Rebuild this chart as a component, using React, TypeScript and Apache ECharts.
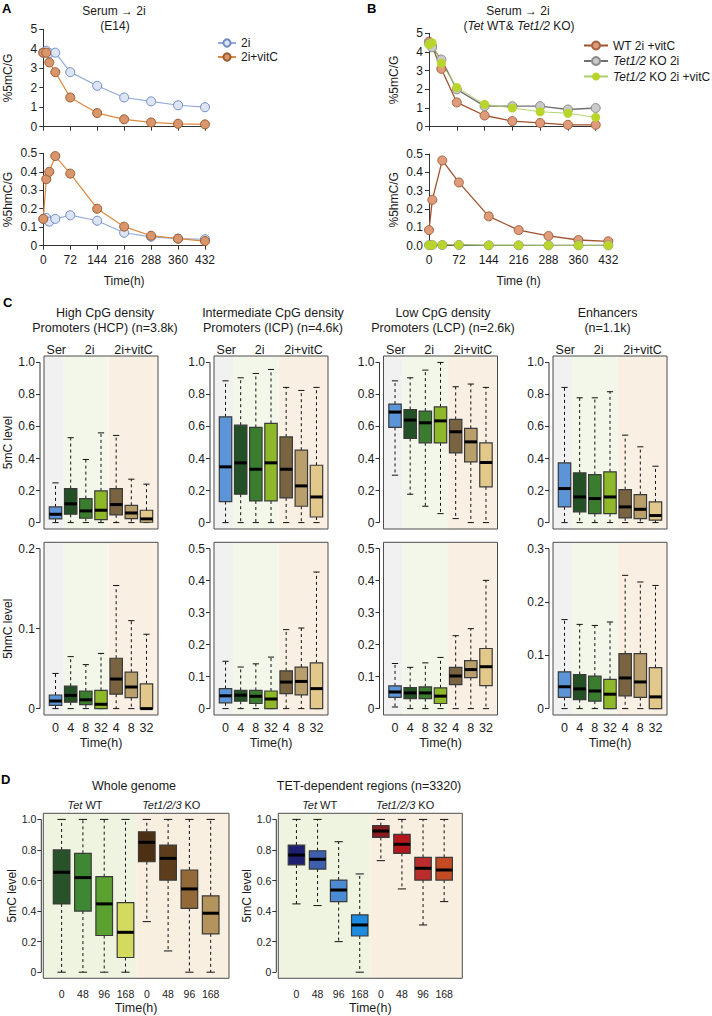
import React, { useEffect, useRef } from "react";
import * as echarts from "echarts";

const FONT = '"Liberation Sans", Arial, Helvetica, sans-serif';
const TXT = "#1a1a1a";
const AX = "#333333";

// ---------------- Panel A ----------------
const A_TIMES = [0, 8, 16, 32, 72, 144, 216, 288, 360, 432];
const A_2I_5MC = [3.8, 3.9, 3.78, 3.8, 2.8, 2.1, 1.5, 1.3, 1.1, 1.0];
const A_VITC_5MC = [3.8, 3.8, 3.3, 2.8, 1.5, 0.7, 0.38, 0.22, 0.15, 0.12];
const A_2I_5HMC = [0.145, 0.15, 0.13, 0.145, 0.165, 0.135, 0.07, 0.048, 0.038, 0.035];
const A_VITC_5HMC = [0.145, 0.36, 0.4, 0.485, 0.39, 0.2, 0.103, 0.054, 0.038, 0.025];

// ---------------- Panel B ----------------
const B_TIMES = [0, 8, 32, 72, 144, 216, 288, 360, 432];
const B_WT_5MC = [4.55, 4.3, 3.1, 1.3, 0.6, 0.3, 0.2, 0.1, 0.1];
const B_KO_5MC = [4.45, 4.25, 3.6, 2.0, 1.1, 1.1, 1.1, 0.92, 1.0];
const B_KOVITC_5MC = [4.4, 4.5, 3.4, 2.1, 1.2, 1.0, 0.8, 0.72, 0.5];
const B_WT_5HMC = [0.085, 0.25, 0.465, 0.345, 0.16, 0.085, 0.053, 0.031, 0.024];
const B_KO_5HMC = [0.003, 0.004, 0.004, 0.004, 0.002, 0.002, 0.002, 0.002, 0.002];
const B_KOVITC_5HMC = [0.003, 0.005, 0.005, 0.005, 0.003, 0.003, 0.002, 0.002, 0.002];

// ---------------- Panel C (min, q1, median, q3, max) ----------------
const C_TIME_LABELS = ["0", "4", "8", "32", "4", "8", "32"];
const C_GROUP_LABELS = ["Ser", "2i", "2i+vitC"];
const C_GROUP_POS = [1.05, 3.25, 6.15];
const HCP_5MC = [
  [0, 0.023, 0.052, 0.098, 0.248],
  [0, 0.052, 0.117, 0.2125, 0.53],
  [0, 0.027, 0.073, 0.15, 0.394],
  [0, 0.019, 0.077, 0.198, 0.56],
  [0, 0.048, 0.1125, 0.2125, 0.544],
  [0, 0.025, 0.06, 0.108, 0.271],
  [0, 0.002, 0.023, 0.077, 0.24],
];
const ICP_5MC = [
  [0, 0.131, 0.348, 0.66, 0.885],
  [0, 0.177, 0.373, 0.608, 0.904],
  [0, 0.135, 0.333, 0.594, 0.931],
  [0, 0.135, 0.373, 0.619, 0.956],
  [0, 0.154, 0.333, 0.535, 0.844],
  [0, 0.102, 0.229, 0.452, 0.825],
  [0, 0.035, 0.16, 0.358, 0.844],
];
const LCP_5MC = [
  [0.296, 0.594, 0.69, 0.74, 0.885],
  [0.177, 0.525, 0.64, 0.706, 0.904],
  [0.102, 0.498, 0.623, 0.696, 0.952],
  [0.056, 0.498, 0.635, 0.723, 1.0],
  [0.025, 0.435, 0.567, 0.644, 0.848],
  [0, 0.379, 0.504, 0.588, 0.865],
  [0, 0.223, 0.375, 0.498, 0.844],
];
const ENH_5MC = [
  [0, 0.098, 0.2125, 0.373, 0.844],
  [0, 0.067, 0.16, 0.31, 0.779],
  [0, 0.056, 0.15, 0.3, 0.779],
  [0, 0.056, 0.16, 0.317, 0.817],
  [0, 0.029, 0.098, 0.206, 0.546],
  [0, 0.025, 0.083, 0.175, 0.473],
  [0, 0.015, 0.044, 0.129, 0.352],
];
const HCP_5HMC = [
  [0, 0.004, 0.0095, 0.017, 0.044],
  [0, 0.008, 0.0166, 0.028, 0.065],
  [0, 0.005, 0.011, 0.022, 0.055],
  [0, 0, 0.0054, 0.0228, 0.069],
  [0, 0.018, 0.037, 0.063, 0.154],
  [0, 0.0137, 0.027, 0.0455, 0.11],
  [0, 0, 0, 0.031, 0.093],
];
const ICP_5HMC = [
  [0, 0.018, 0.04, 0.0625, 0.148],
  [0, 0.023, 0.042, 0.057, 0.13],
  [0, 0.016, 0.0385, 0.057, 0.14],
  [0, 0, 0.03, 0.055, 0.161],
  [0, 0.047, 0.083, 0.118, 0.247],
  [0, 0.043, 0.085, 0.13, 0.252],
  [0, 0, 0.0625, 0.143, 0.427],
];
const LCP_5HMC = [
  [0.005, 0.035, 0.052, 0.071, 0.141],
  [0, 0.031, 0.049, 0.066, 0.129],
  [0, 0.031, 0.049, 0.068, 0.143],
  [0, 0.016, 0.039, 0.065, 0.16],
  [0, 0.075, 0.102, 0.129, 0.228],
  [0, 0.097, 0.122, 0.15, 0.25],
  [0, 0.072, 0.131, 0.188, 0.401],
];
const ENH_5HMC = [
  [0, 0.021, 0.041, 0.069, 0.167],
  [0, 0.017, 0.037, 0.064, 0.158],
  [0, 0.014, 0.033, 0.061, 0.156],
  [0, 0, 0.027, 0.055, 0.1625],
  [0, 0.024, 0.0575, 0.103, 0.25],
  [0, 0.021, 0.05, 0.103, 0.2375],
  [0, 0, 0.022, 0.077, 0.231],
];
const C_TICKS_5MC = [0, 0.2, 0.4, 0.6, 0.8, 1.0];
const HCP_TICKS_5HMC = [0, 0.1, 0.2];
const ICP_TICKS_5HMC = [0, 0.1, 0.2, 0.3, 0.4, 0.5];
const LCP_TICKS_5HMC = [0, 0.1, 0.2, 0.3, 0.4, 0.5];
const ENH_TICKS_5HMC = [0, 0.1, 0.2, 0.3];

// ---------------- Panel D ----------------
const D_TIME_LABELS = ["0", "48", "96", "168", "0", "48", "96", "168"];
const D_GROUP_LABELS = ["{i|Tet} WT", "{i|Tet1/2/3} KO"];
const D_GROUP_POS = [2.1, 6.15];
const WG_5MC = [
  [0, 0.447, 0.654, 0.8, 1.0],
  [0, 0.4, 0.619, 0.778, 1.0],
  [0, 0.24, 0.447, 0.625, 1.0],
  [0, 0.096, 0.261, 0.455, 1.0],
  [0.331, 0.723, 0.85, 0.919, 1.0],
  [0.139, 0.603, 0.745, 0.832, 1.0],
  [0, 0.418, 0.545, 0.669, 1.0],
  [0, 0.251, 0.386, 0.5, 1.0],
];
const TET_5MC = [
  [0.447, 0.702, 0.767, 0.832, 1.0],
  [0.436, 0.675, 0.739, 0.795, 1.0],
  [0.2, 0.462, 0.538, 0.603, 0.854],
  [0, 0.237, 0.309, 0.375, 0.643],
  [0.73, 0.882, 0.924, 0.959, 1.0],
  [0.545, 0.778, 0.837, 0.902, 1.0],
  [0.309, 0.603, 0.68, 0.752, 1.0],
  [0.462, 0.603, 0.669, 0.752, 1.0],
];
const D_TICKS = [0, 0.2, 0.4, 0.6, 0.8, 1.0];

// ---------------- styles ----------------
const C_COLORS = ["#5b94d7", "#245025", "#3a7d2e", "#8eb72a", "#7a6340", "#b99f6c", "#e2c88b"];
const WG_COLORS = ["#27522a", "#3e8834", "#5aa132", "#d3db5e", "#4d3013", "#5e3d1d", "#936939", "#b5935c"];
const TET_COLORS = ["#1f1f70", "#3d5fae", "#4b8bd3", "#1d8be0", "#8a1c20", "#b3171d", "#bb2c2c", "#c24b24"];
const C_BAND_COLORS = ["#f1f1f1", "#f3f7ea", "#f9f0e3"];
const D_BAND_COLORS = ["#eff4e0", "#f8efe1"];
const C_X_RANGE = [0.24, 7.76];
const C_SPLITS = [1.5, 4.5];
const D_X_RANGE = [0.14, 8.86];
const D_SPLITS = [4.5];

type Rect = { left: number; top: number; width: number; height: number };

const fmtTick = (v: number) => (Math.abs(v) < 1e-9 ? "0" : (+v.toFixed(2)).toFixed(1));

function makeBoxRenderer(colors: string[], wex: number) {
  return (params: any, api: any) => {
    const pos = api.value(0);
    const lo = api.coord([pos, api.value(1)]);
    const q1 = api.coord([pos, api.value(2)]);
    const md = api.coord([pos, api.value(3)]);
    const q3 = api.coord([pos, api.value(4)]);
    const hi = api.coord([pos, api.value(5)]);
    const w = api.size([wex, 0])[0];
    const cx = lo[0];
    const cap = w / 4;
    const dash = { stroke: "#111", lineWidth: 1, lineDash: [3, 3] };
    const solid = { stroke: "#111", lineWidth: 1 };
    return {
      type: "group",
      children: [
        { type: "line", shape: { x1: cx, y1: q3[1], x2: cx, y2: hi[1] }, style: dash },
        { type: "line", shape: { x1: cx, y1: q1[1], x2: cx, y2: lo[1] }, style: dash },
        { type: "line", shape: { x1: cx - cap, y1: hi[1], x2: cx + cap, y2: hi[1] }, style: solid },
        { type: "line", shape: { x1: cx - cap, y1: lo[1], x2: cx + cap, y2: lo[1] }, style: solid },
        {
          type: "rect",
          shape: { x: cx - w / 2, y: q3[1], width: w, height: q1[1] - q3[1] },
          style: { fill: colors[params.dataIndex], stroke: "#3a3a3a", lineWidth: 1.2 },
        },
        {
          type: "line",
          shape: { x1: cx - w / 2, y1: md[1], x2: cx + w / 2, y2: md[1] },
          style: { stroke: "#000", lineWidth: 3 },
        },
      ],
    };
  };
}

function buildOption() {
  const grid: any[] = [];
  const xAxis: any[] = [];
  const yAxis: any[] = [];
  const series: any[] = [];
  const graphic: any[] = [];

  const addGrid = (r: Rect, frame: boolean) => {
    grid.push({
      ...r,
      show: frame,
      z: 10,
      backgroundColor: "transparent",
      borderColor: "#4d4d4d",
      borderWidth: 1,
    });
    return grid.length - 1;
  };

  const nameStyle = { fontSize: 12, fontFamily: FONT, color: TXT };

  // ---------- line panels ----------
  const linePanel = (
    r: Rect,
    yMax: number,
    yStep: number,
    yName: string,
    showX: boolean,
    xName: string,
    yFmt: (v: number) => string
  ) => {
    const gi = addGrid(r, false);
    xAxis.push({
      type: "value",
      gridIndex: gi,
      min: 0,
      max: 432,
      interval: 72,
      axisLine: { show: true, lineStyle: { color: AX, width: 1 } },
      axisTick: { show: true, length: 4, lineStyle: { color: AX } },
      axisLabel: { show: showX, fontSize: 12, fontFamily: FONT, color: TXT, margin: 8 },
      splitLine: { show: false },
      name: showX ? xName : "",
      nameLocation: "middle",
      nameGap: 29,
      nameTextStyle: nameStyle,
    });
    yAxis.push({
      type: "value",
      gridIndex: gi,
      min: 0,
      max: yMax,
      interval: yStep,
      axisLine: { show: true, lineStyle: { color: AX, width: 1 } },
      axisTick: { show: true, length: 4, lineStyle: { color: AX } },
      axisLabel: { fontSize: 12, fontFamily: FONT, color: TXT, margin: 6, formatter: yFmt },
      splitLine: { show: false },
      name: yName,
      nameLocation: "middle",
      nameGap: 29,
      nameTextStyle: nameStyle,
    });
    return { xi: xAxis.length - 1, yi: yAxis.length - 1 };
  };

  const lineSeries = (
    name: string,
    ax: { xi: number; yi: number },
    times: number[],
    vals: number[],
    line: string,
    fill: string,
    border: string,
    lw: number,
    size: number
  ) => ({
    type: "line",
    name,
    xAxisIndex: ax.xi,
    yAxisIndex: ax.yi,
    data: times.map((t, i) => [t, vals[i]]),
    symbol: "circle",
    symbolSize: size,
    clip: false,
    silent: true,
    lineStyle: { color: line, width: lw },
    itemStyle: { color: fill, borderColor: border, borderWidth: border === "none" ? 0 : 1 },
  });

  const intFmt = (v: number) => String(Math.round(v));
  const oneFmt = (v: number) => (Math.abs(v) < 1e-9 ? "0" : (+v.toFixed(2)).toString());
  const fixFmt = (v: number) => (+v.toFixed(2)).toFixed(1);

  const a1 = linePanel({ left: 43.3, top: 29.3, width: 161.7, height: 97.4 }, 5, 1, "%5mC/G", false, "", intFmt);
  const a2 = linePanel({ left: 43.3, top: 153.3, width: 161.7, height: 92.4 }, 0.5, 0.1, "%5hmC/G", true, "Time(h)", oneFmt);
  const b1 = linePanel({ left: 429, top: 33.3, width: 166.7, height: 93.4 }, 5, 1, "%5mC/G", false, "", intFmt);
  const b2 = linePanel({ left: 429, top: 154, width: 179.3, height: 91.7 }, 0.5, 0.1, "%5hmC/G", true, "Time (h)", fixFmt);

  const BLUE = ["#93abdb", "#dde5f5", "#6f8bc6"];
  const ORANGE = ["#dc8a3e", "#d9966c", "#9c5a2f"];
  series.push(lineSeries("2i", a1, A_TIMES, A_2I_5MC, BLUE[0], BLUE[1], BLUE[2], 1.2, 9));
  series.push(lineSeries("2i+vitC", a1, A_TIMES, A_VITC_5MC, ORANGE[0], ORANGE[1], ORANGE[2], 1.2, 9));
  series.push(lineSeries("2i", a2, A_TIMES, A_2I_5HMC, BLUE[0], BLUE[1], BLUE[2], 1.2, 9));
  series.push(lineSeries("2i+vitC", a2, A_TIMES, A_VITC_5HMC, ORANGE[0], ORANGE[1], ORANGE[2], 1.2, 9));

  const WT = ["#a0522d", "#de9c7b", "#a5633f"];
  const KO = ["#707070", "#c9c9c9", "#8c8c8c"];
  const KOV = ["#a9d162", "#b9d52c", "none"];
  series.push(lineSeries("WT 2i +vitC", b1, B_TIMES, B_WT_5MC, WT[0], WT[1], WT[2], 1.3, 9));
  series.push(lineSeries("Tet1/2 KO 2i", b1, B_TIMES, B_KO_5MC, KO[0], KO[1], KO[2], 1.3, 9));
  series.push(lineSeries("Tet1/2 KO 2i +vitC", b1, B_TIMES, B_KOVITC_5MC, KOV[0], KOV[1], KOV[2], 0.9, 9));
  series.push(lineSeries("WT 2i +vitC", b2, B_TIMES, B_WT_5HMC, WT[0], WT[1], WT[2], 1.3, 9));
  series.push(lineSeries("Tet1/2 KO 2i", b2, B_TIMES, B_KO_5HMC, KO[0], KO[1], KO[2], 1.3, 9));
  series.push(lineSeries("Tet1/2 KO 2i +vitC", b2, B_TIMES, B_KOVITC_5HMC, KOV[0], KOV[1], KOV[2], 0.9, 9));

  // ---------- box panels ----------
  const boxPanel = (
    r: Rect,
    rows: number[][],
    colors: string[],
    bandColors: string[],
    xRange: number[],
    splits: number[],
    yMax: number,
    ticks: number[],
    yName: string,
    xLabels: string[] | null,
    groupPos: number[] | null,
    groupLabels: string[] | null,
    opts: any
  ) => {
    const gi = addGrid(r, true);
    const positions = rows.map((_, i) => i + 1);
    xAxis.push({
      type: "value",
      gridIndex: gi,
      min: xRange[0],
      max: xRange[1],
      axisLine: { show: false },
      axisTick: { show: true, length: 5, customValues: positions, lineStyle: { color: AX } },
      axisLabel: {
        show: !!xLabels,
        customValues: positions,
        formatter: (v: number) => (xLabels ? xLabels[Math.round(v) - 1] : ""),
        fontSize: opts.xFont,
        fontFamily: FONT,
        color: TXT,
        margin: opts.xMargin,
      },
      splitLine: { show: false },
      name: xLabels ? "Time(h)" : "",
      nameLocation: "middle",
      nameGap: opts.xNameGap,
      nameTextStyle: { fontSize: 12.5, fontFamily: FONT, color: TXT },
    });
    const xi = xAxis.length - 1;
    if (groupPos && groupLabels) {
      xAxis.push({
        type: "value",
        gridIndex: gi,
        position: "top",
        min: xRange[0],
        max: xRange[1],
        axisLine: { show: false },
        axisTick: { show: false },
        splitLine: { show: false },
        axisLabel: {
          customValues: groupPos,
          formatter: (v: number) => {
            let best = 0;
            groupPos.forEach((p, i) => {
              if (Math.abs(p - v) < Math.abs(groupPos[best] - v)) best = i;
            });
            return groupLabels[best];
          },
          fontSize: opts.gFont,
          fontFamily: FONT,
          color: TXT,
          margin: opts.gMargin,
          rich: { i: { fontStyle: "italic", fontSize: opts.gFont, fontFamily: FONT, color: TXT } },
        },
      });
    }
    yAxis.push({
      type: "value",
      gridIndex: gi,
      min: -0.04 * yMax,
      max: 1.04 * yMax,
      offset: opts.yOffset,
      axisLine: { show: false },
      axisTick: { show: true, length: 4, customValues: ticks, lineStyle: { color: AX } },
      axisLabel: {
        customValues: ticks,
        formatter: fmtTick,
        fontSize: opts.yFont,
        fontFamily: FONT,
        color: TXT,
        margin: 5,
      },
      splitLine: { show: false },
      name: yName,
      nameLocation: "middle",
      nameGap: opts.yNameGap,
      nameTextStyle: { fontSize: 12, fontFamily: FONT, color: TXT },
    });
    const yi = yAxis.length - 1;
    const edges = [xRange[0], ...splits, xRange[1]];
    series.push({
      type: "custom",
      xAxisIndex: xi,
      yAxisIndex: yi,
      z: 1,
      silent: true,
      data: edges.slice(0, -1).map((e, i) => [e, edges[i + 1], 0]),
      encode: { x: [0, 1], y: 2 },
      renderItem: (params: any, api: any) => {
        const cs = params.coordSys;
        const a = api.coord([api.value(0), 0])[0];
        const b = api.coord([api.value(1), 0])[0];
        return {
          type: "rect",
          shape: { x: a, y: cs.y, width: b - a, height: cs.height },
          style: { fill: bandColors[params.dataIndex] },
        };
      },
    });
    // R-style y axis line spanning only the tick range
    series.push({
      type: "custom",
      xAxisIndex: xi,
      yAxisIndex: yi,
      z: 3,
      silent: true,
      clip: false,
      data: [[xRange[0], ticks[0], ticks[ticks.length - 1]]],
      encode: { x: 0, y: [1, 2] },
      renderItem: (params: any, api: any) => {
        const cs = params.coordSys;
        const p0 = api.coord([api.value(0), api.value(1)]);
        const p1 = api.coord([api.value(0), api.value(2)]);
        const x = cs.x - opts.yOffset;
        return {
          type: "line",
          shape: { x1: x, y1: p0[1], x2: x, y2: p1[1] },
          style: { stroke: AX, lineWidth: 1 },
        };
      },
    });
    series.push({
      type: "custom",
      xAxisIndex: xi,
      yAxisIndex: yi,
      z: 3,
      silent: true,
      clip: false,
      data: rows.map((row, i) => [i + 1, ...row]),
      encode: { x: 0, y: [1, 2, 3, 4, 5] },
      renderItem: makeBoxRenderer(colors, opts.wex),
    });
  };

  const cOpts = {
    xFont: 12.5,
    xMargin: 6,
    xNameGap: 21,
    gFont: 12.5,
    gMargin: 0,
    yFont: 12,
    yOffset: 4,
    yNameGap: 22,
    wex: 0.82,
  };
  const C_LEFTS = [44, 214, 383.5, 553];
  const C_ROW1 = { top: 356, height: 173 };
  const C_ROW2 = { top: 542.3, height: 172.7 };
  const cPanels = [
    { d1: HCP_5MC, d2: HCP_5HMC, max2: 0.2, t2: HCP_TICKS_5HMC },
    { d1: ICP_5MC, d2: ICP_5HMC, max2: 0.5, t2: ICP_TICKS_5HMC },
    { d1: LCP_5MC, d2: LCP_5HMC, max2: 0.5, t2: LCP_TICKS_5HMC },
    { d1: ENH_5MC, d2: ENH_5HMC, max2: 0.3, t2: ENH_TICKS_5HMC },
  ];
  cPanels.forEach((p, k) => {
    boxPanel(
      { left: C_LEFTS[k], top: C_ROW1.top, width: 114, height: C_ROW1.height },
      p.d1, C_COLORS, C_BAND_COLORS, C_X_RANGE, C_SPLITS, 1.0, C_TICKS_5MC,
      k === 0 ? "5mC level" : "", null, C_GROUP_POS, C_GROUP_LABELS, cOpts
    );
    boxPanel(
      { left: C_LEFTS[k], top: C_ROW2.top, width: 114, height: C_ROW2.height },
      p.d2, C_COLORS, C_BAND_COLORS, C_X_RANGE, C_SPLITS, p.max2, p.t2,
      k === 0 ? "5hmC level" : "", C_TIME_LABELS, null, null, cOpts
    );
  });

  const dOpts = {
    xFont: 10.5,
    xMargin: 10,
    xNameGap: 23.5,
    gFont: 11,
    gMargin: 3,
    yFont: 10.5,
    yOffset: 2,
    yNameGap: 23,
    wex: 0.78,
  };
  boxPanel(
    { left: 43.3, top: 813.3, width: 185.7, height: 165 },
    WG_5MC, WG_COLORS, D_BAND_COLORS, D_X_RANGE, D_SPLITS, 1.0, D_TICKS,
    "5mC level", D_TIME_LABELS, D_GROUP_POS, D_GROUP_LABELS, dOpts
  );
  boxPanel(
    { left: 278.3, top: 813.3, width: 184, height: 165 },
    TET_5MC, TET_COLORS, D_BAND_COLORS, D_X_RANGE, D_SPLITS, 1.0, D_TICKS,
    "5mC level", D_TIME_LABELS, D_GROUP_POS, D_GROUP_LABELS, dOpts
  );

  // ---------- texts ----------
  const italic = { i: { fontStyle: "italic", fontSize: 12, fontFamily: FONT, fill: TXT } };
  const txt = (x: number, y: number, text: string, extra: any = {}) => ({
    type: "text",
    x,
    y,
    silent: true,
    style: {
      text,
      fontSize: 12,
      fontFamily: FONT,
      fill: TXT,
      align: "center",
      verticalAlign: "middle",
      ...extra,
    },
  });
  const bold = { fontSize: 13, fontWeight: "bold", align: "left", fill: "#000" };
  graphic.push(txt(2, 8, "A", bold));
  graphic.push(txt(367, 8, "B", bold));
  graphic.push(txt(3, 302.7, "C", bold));
  graphic.push(txt(1, 779.3, "D", bold));

  graphic.push(txt(114, 11, "Serum \u2192 2i"));
  graphic.push(txt(115, 25.7, "(E14)"));
  graphic.push(txt(518, 11, "Serum \u2192 2i"));
  graphic.push(txt(519, 25.7, "({i|Tet} WT& {i|Tet1/2} KO)", { rich: italic }));

  const cTitles = [
    [105, "High CpG density", "Promoters (HCP) (n=3.8k)"],
    [273, "Intermediate CpG density", "Promoters (ICP) (n=4.6k)"],
    [443, "Low CpG density", "Promoters (LCP) (n=2.6k)"],
    [607.5, "Enhancers", "(n=1.1k)"],
  ] as const;
  cTitles.forEach(([x, l1, l2]) => {
    graphic.push(txt(x as number, 313.3, l1 as string, { fontSize: 12.5 }));
    graphic.push(txt(x as number, 327.7, l2 as string, { fontSize: 12.5 }));
  });
  graphic.push(txt(134, 786, "Whole genome", { fontSize: 12.5 }));
  graphic.push(txt(369, 786, "TET-dependent regions (n=3320)", { fontSize: 12.5 }));

  const legendRich = { i: { fontStyle: "italic", fontSize: 12, fontFamily: FONT, color: TXT } };
  const legendFmt = (name: string) =>
    name.startsWith("Tet1/2") ? "{i|Tet1/2}" + name.slice(6) : name;

  return {
    animation: false,
    backgroundColor: "#ffffff",
    textStyle: { fontFamily: FONT },
    grid,
    xAxis,
    yAxis,
    series,
    graphic: { elements: graphic },
    legend: [
      {
        orient: "vertical",
        left: 217,
        top: 37,
        padding: 0,
        itemWidth: 18,
        itemHeight: 9,
        itemGap: 2,
        selectedMode: false,
        data: ["2i", "2i+vitC"],
        textStyle: { fontSize: 12, fontFamily: FONT, color: TXT, lineHeight: 12 },
      },
      {
        orient: "vertical",
        left: 583,
        top: 39.5,
        padding: 0,
        itemWidth: 24,
        itemHeight: 10,
        itemGap: 3.5,
        selectedMode: false,
        data: ["WT 2i +vitC", "Tet1/2 KO 2i", "Tet1/2 KO 2i +vitC"],
        formatter: legendFmt,
        textStyle: { fontSize: 12, fontFamily: FONT, color: TXT, lineHeight: 12, rich: legendRich },
      },
    ],
  };
}

export default function App() {
  const ref = useRef<HTMLDivElement>(null);
  useEffect(() => {
    if (!ref.current) return;
    const chart = echarts.init(ref.current, null, { renderer: "svg" });
    chart.setOption(buildOption() as any);
    return () => {
      chart.dispose();
    };
  }, []);
  return (
    <div
      ref={ref}
      style={{ position: "fixed", left: 0, top: 0, width: 712, height: 1016, background: "#ffffff" }}
    />
  );
}
